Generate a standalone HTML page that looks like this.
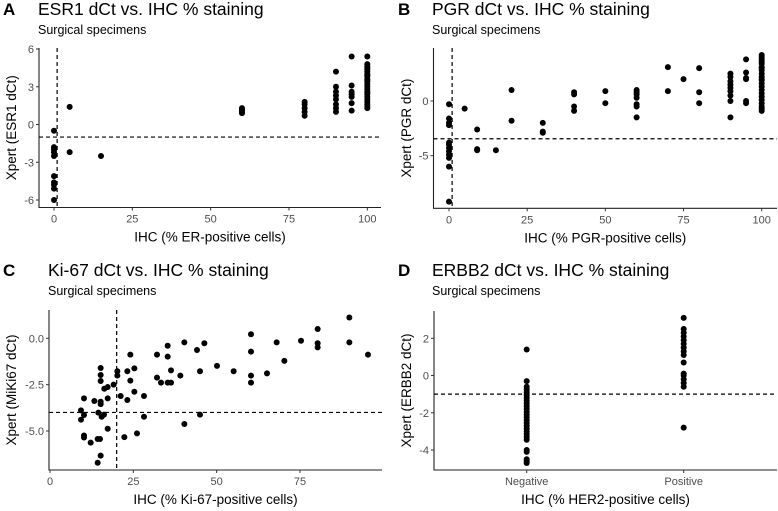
<!DOCTYPE html>
<html><head><meta charset="utf-8">
<style>
html,body{margin:0;padding:0;background:#fff;}
svg{display:block;font-family:"Liberation Sans",Arial,sans-serif;}
</style></head>
<body>
<svg id="chart" width="778" height="511" viewBox="0 0 778 511" xmlns="http://www.w3.org/2000/svg"></svg>
<script>
// Panel A: ESR1
const esrX = [0,0,0,0,0,0,0,0,0,0, 5,5, 15, 60,60,60,60,60, 80,80,80,80,80, 90,90,90,90,90,90,90,90, 95,95,95,95,95,95,95,
 100,100,100,100,100,100,100,100,100,100,100,100,100,100,100,100,100,100,100,100,100,100,100,100];
const esrY = [-0.5,-1.8,-2.0,-2.2,-2.5,-4.1,-4.6,-4.8,-5.1,-6.0, 1.4,-2.2, -2.5, 0.9,1.0,1.1,1.2,1.3, 0.7,1.0,1.3,1.6,1.8, 4.2,3.0,2.6,2.3,2.0,1.6,1.3,1.0, 5.4,3.1,2.6,2.4,2.2,1.7,1.1,
 5.4,4.8,4.6,4.4,4.2,4.0,3.8,3.6,3.4,3.2,3.0,2.8,2.6,2.4,2.2,2.0,1.8,1.6,1.45,1.3,3.5,2.5,3.9,4.5];
const esrXTicks = [0,25,50,75,100];
const esrYTicks = [-6,-3,0,3,6];
const esrCut = {x:1, y:-1};

// Panel B: PGR
const pgrX = [0,0,0,0,0,0,0,0,0,0,0,0, 5, 9,9,9, 15, 20,20, 30,30,30, 40,40,40,40, 50,50, 60,60,60,60,60,60,60, 70,70, 75, 80,80,80,
 90,90,90,90,90,90,90,90,90, 95,95,95,95,95,95,
 100,100,100,100,100,100,100,100,100,100,100,100,100,100,100,100,100,100,100,100,100,100];
const pgrY = [-0.3,-1.6,-2.0,-2.2,-3.8,-4.0,-4.3,-4.6,-4.9,-5.2,-6.0,-9.2, -0.7, -2.6,-4.4,-4.5, -4.5, 1.0,-1.8, -2.0,-2.8,-2.9, 0.8,0.6,-0.5,-0.9, 0.9,-0.2, 1.0,0.8,0.6,0.3,-0.3,-0.5,-1.5, 3.1,0.9, 2.0, 3.0,0.8,-0.2,
 2.5,2.2,1.8,1.5,1.2,0.9,0.5,0.0,-1.5, 3.8,2.6,2.1,2.0,0.0,-0.2,
 4.2,4.0,3.8,3.6,3.4,3.1,2.8,2.5,2.2,1.9,1.6,1.3,1.0,0.7,0.4,0.1,-0.2,-0.5,-0.7,-0.9,3.0,2.0];
const pgrXTicks = [0,25,50,75,100];
const pgrYTicks = [-5,0];
const pgrCut = {x:1, y:-3.45};

// Panel C: Ki-67
const kiX = [89.8,89.8,95.4,80.3,80.3,80.3,75.3,68,70.3,65.1,60.3,60.3,60.3,60.3,55.1,50.1,46.3,45,45,44.1,40.3,40.3,39.1,36.3,36.3,35.3,35.3,35.3,33.3,32.1,32.1,28.2,28.2,26.1,25.3,25.3,24.1,24.1,23.2,23.2,22.3,21.2,20.2,20.2,19.1,17.3,17.3,17.3,16.3,16.2,15.5,15.2,15.2,15.2,15.2,15.2,15.2,15,14.5,14.3,14.3,13.3,12.2,10.2,10.2,10.2,10.2,9.3,9.3];
const kiY = [1.12,-0.22,-0.88,0.5,-0.27,-0.49,-0.13,-0.22,-1.22,-1.89,0.22,-0.72,-2.01,-2.39,-1.78,-1.49,-0.27,-1.78,-4.12,-0.63,-0.22,-4.62,-2.01,-1.73,-2.39,-0.4,-0.99,-2.39,-2.39,-0.88,-2.12,-3.11,-4.23,-5.13,-1.62,-2.88,-0.88,-2.28,-3.33,-1.78,-5.33,-3.11,-1.78,-2.01,-2.5,-2.63,-3.24,-4.88,-2.72,-4.12,-4.23,-1.6,-1.98,-2.3,-3.42,-3.55,-6.33,-5.43,-4.01,-5.43,-6.71,-3.38,-5.63,-3.24,-4.14,-5.24,-5.35,-3.89,-4.39];
const kiXTicks = [0,25,50,75];
const kiYTicks = [-5,-2.5,0];
const kiYLabels = ["-5.0","-2.5","0.0"];
const kiCut = {x:20, y:-4.0};

// Panel D: ERBB2
const erbCats = ["Negative","Positive"];
const erbNegY = [1.4,-0.3,-0.6,-0.75,-0.9,-1.05,-1.2,-1.35,-1.5,-1.65,-1.8,-1.95,-2.1,-2.25,-2.4,-2.55,-2.7,-2.85,-3.0,-3.15,-3.3,-3.45,-4.0,-4.1,-4.5,-4.6,-4.7];
const erbPosY = [3.1,2.5,2.3,2.1,1.9,1.7,1.5,1.3,1.1,0.7,0.1,0.0,-0.2,-0.4,-0.6,-2.8];
const erbYTicks = [-4,-2,0,2];
const erbCut = {y:-1};

const NS = "http://www.w3.org/2000/svg";
const svg = document.getElementById('chart');
function mk(tag, attrs, parent, text){
  const e = document.createElementNS(NS, tag);
  for (const k in attrs) e.setAttribute(k, attrs[k]);
  if (text !== undefined) e.textContent = text;
  (parent||svg).appendChild(e);
  return e;
}
function lin(d0,d1,r0,r1){ return v => r0 + (v-d0)/(d1-d0)*(r1-r0); }

function panel(cfg){
  const g = mk('g', {});
  
  
  const L = mk('text', {x:cfg.lx, y:cfg.ty, 'font-size':17, 'font-weight':'bold', fill:'#000'}, g, cfg.letter);
  
  
  const T = mk('text', {x:cfg.tx, y:cfg.ty, 'font-size':17.5, fill:'#000'}, g, cfg.title);
  
  
  const S = mk('text', {x:cfg.tx, y:cfg.ty+19, 'font-size':12.5, fill:'#000'}, g, 'Surgical specimens');
  
  
  const xs = cfg.xs, ys = cfg.ys;
  const ax = mk('path', {d:`M${cfg.left},${cfg.top}V${cfg.bottom}H${cfg.right}`, fill:'none', stroke:'#222', 'stroke-width':1.1}, g);
  
  
  cfg.xticks.forEach((v,i)=>{
    const x = xs(v);
    mk('line', {x1:x, x2:x, y1:cfg.bottom, y2:cfg.bottom+3, stroke:'#333'}, g);
    const t = mk('text', {x:x, y:cfg.bottom+15, 'font-size':11, fill:'#4d4d4d', 'text-anchor':'middle'}, g, cfg.xlabels ? cfg.xlabels[i] : String(v));
    
    
  });
  cfg.yticks.forEach((v,i)=>{
    const y = ys(v);
    mk('line', {x1:cfg.left-3, x2:cfg.left, y1:y, y2:y, stroke:'#333'}, g);
    const t = mk('text', {x:cfg.left-5, y:y+4, 'font-size':11, fill:'#4d4d4d', 'text-anchor':'end'}, g, cfg.ylabels ? cfg.ylabels[i] : String(v));
    
    
  });
  const xt = mk('text', {x:(cfg.left+cfg.right)/2, y:cfg.bottom+34, 'font-size':13.5, fill:'#000', 'text-anchor':'middle'}, g, cfg.xtitle);
  
  
  const yc = (cfg.top+cfg.bottom)/2;
  const yt = mk('text', {x:cfg.ytx, y:yc, 'font-size':13.5, fill:'#000', 'text-anchor':'middle', transform:`rotate(-90 ${cfg.ytx} ${yc})`}, g, cfg.ytitle);
  
  
  if (cfg.cut.y !== undefined){
    const y = ys(cfg.cut.y);
    const h = mk('line', {x1:cfg.left, x2:cfg.right, y1:y, y2:y, stroke:'#000', 'stroke-width':1.2, 'stroke-dasharray':'4,3'}, g);
    
    
  }
  if (cfg.cut.x !== undefined){
    const x = xs(cfg.cut.x);
    const v = mk('line', {x1:x, x2:x, y1:cfg.top, y2:cfg.bottom, stroke:'#000', 'stroke-width':1.2, 'stroke-dasharray':'4,3'}, g);
    
    
  }
  cfg.px.forEach((xv,i)=>{
    if (cfg.py[i] === undefined) return;
    const c = mk('circle', {cx:xs(xv), cy:ys(cfg.py[i]), r:3, fill:'#000'}, g);
    
    
  });
}

panel({name:'panel-a-esr1', letter:'A', title:'ESR1 dCt vs. IHC % staining', lx:3, tx:38, ty:15,
  left:39, right:381, top:48, bottom:207.5, xs:lin(0,100,54,367.3), ys:lin(-6,6,200,49),
  xticks:esrXTicks, yticks:esrYTicks, xtitle:'IHC (% ER-positive cells)', ytitle:'Xpert (ESR1 dCt)', ytx:16,
  cut:esrCut, px:esrX, py:esrY});

panel({name:'panel-b-pgr', letter:'B', title:'PGR dCt vs. IHC % staining', lx:398, tx:432, ty:15,
  left:433.5, right:777, top:48, bottom:208.3, xs:lin(0,100,449,761.7), ys:lin(-5,0,155.7,101),
  xticks:pgrXTicks, yticks:pgrYTicks, xtitle:'IHC (% PGR-positive cells)', ytitle:'Xpert (PGR dCt)', ytx:411,
  cut:pgrCut, px:pgrX, py:pgrY});

panel({name:'panel-c-ki67', letter:'C', title:'Ki-67 dCt vs. IHC % staining', lx:3, tx:48, ty:276,
  left:49, right:382, top:310, bottom:470, xs:lin(0,75,50,300), ys:lin(-5,0,431,338.3),
  xticks:kiXTicks, yticks:kiYTicks, ylabels:kiYLabels, xtitle:'IHC (% Ki-67-positive cells)', ytitle:'Xpert (MiKi67 dCt)', ytx:16,
  cut:kiCut, px:kiX, py:kiY});

const erbPX = erbNegY.map(()=>0).concat(erbPosY.map(()=>1));
const erbPY = erbNegY.concat(erbPosY);
panel({name:'panel-d-erbb2', letter:'D', title:'ERBB2 dCt vs. IHC % staining', lx:398, tx:432, ty:276,
  left:434, right:777, top:311, bottom:470, xs:lin(0,1,526.7,683.7), ys:lin(-4,2,450,338.3),
  xticks:[0,1], xlabels:erbCats, yticks:erbYTicks, xtitle:'IHC (% HER2-positive cells)', ytitle:'Xpert (ERBB2 dCt)', ytx:411,
  cut:erbCut, px:erbPX, py:erbPY});
</script>
</body></html>
